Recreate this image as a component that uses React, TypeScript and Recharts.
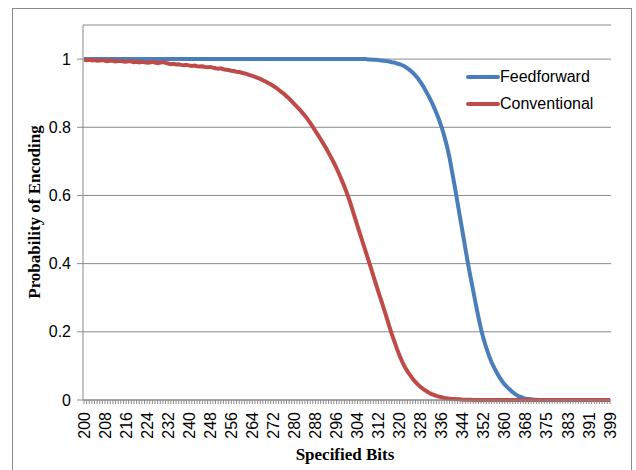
import { LineChart, Line, XAxis, YAxis, CartesianGrid } from 'recharts';

// specified bits (x categories) as labelled in the source; 372 appears twice
const bits = [
    200, 201, 202, 203, 204, 205, 206, 207, 208, 209, 210, 211, 212, 213, 214, 215, 216, 217, 218, 219,
    220, 221, 222, 223, 224, 225, 226, 227, 228, 229, 230, 231, 232, 233, 234, 235, 236, 237, 238, 239,
    240, 241, 242, 243, 244, 245, 246, 247, 248, 249, 250, 251, 252, 253, 254, 255, 256, 257, 258, 259,
    260, 261, 262, 263, 264, 265, 266, 267, 268, 269, 270, 271, 272, 273, 274, 275, 276, 277, 278, 279,
    280, 281, 282, 283, 284, 285, 286, 287, 288, 289, 290, 291, 292, 293, 294, 295, 296, 297, 298, 299,
    300, 301, 302, 303, 304, 305, 306, 307, 308, 309, 310, 311, 312, 313, 314, 315, 316, 317, 318, 319,
    320, 321, 322, 323, 324, 325, 326, 327, 328, 329, 330, 331, 332, 333, 334, 335, 336, 337, 338, 339,
    340, 341, 342, 343, 344, 345, 346, 347, 348, 349, 350, 351, 352, 353, 354, 355, 356, 357, 358, 359,
    360, 361, 362, 363, 364, 365, 366, 367, 368, 369, 370, 371, 372, 372, 373, 374, 375, 376, 377, 378,
    379, 380, 381, 382, 383, 384, 385, 386, 387, 388, 389, 390, 391, 392, 393, 394, 395, 396, 397, 398,
    399,
];

const feedforward = [
    1, 1, 1, 1, 1, 1, 1, 1, 1, 1,
    1, 1, 1, 1, 1, 1, 1, 1, 1, 1,
    1, 1, 1, 1, 1, 1, 1, 1, 1, 1,
    1, 1, 1, 1, 1, 1, 1, 1, 1, 1,
    1, 1, 1, 1, 1, 1, 1, 1, 1, 1,
    1, 1, 1, 1, 1, 1, 1, 1, 1, 1,
    1, 1, 1, 1, 1, 1, 1, 1, 1, 1,
    1, 1, 1, 1, 1, 1, 1, 1, 1, 1,
    1, 1, 1, 1, 1, 1, 1, 1, 1, 1,
    1, 1, 1, 1, 1, 1, 1, 1, 1, 1,
    1, 1, 1, 1, 1, 1, 1, 1, 0.999, 0.999,
    0.998, 0.998, 0.997, 0.996, 0.995, 0.994, 0.993, 0.991, 0.99, 0.987,
    0.985, 0.982, 0.978, 0.973, 0.967, 0.96, 0.952, 0.943, 0.932, 0.92,
    0.906, 0.892, 0.877, 0.86, 0.842, 0.822, 0.8, 0.774, 0.745, 0.71,
    0.668, 0.625, 0.58, 0.535, 0.49, 0.445, 0.4, 0.36, 0.32, 0.28,
    0.242, 0.207, 0.177, 0.152, 0.13, 0.11, 0.094, 0.08, 0.066, 0.055,
    0.045, 0.037, 0.03, 0.023, 0.017, 0.012, 0.009, 0.006, 0.004, 0.003,
    0.002, 0.001, 0.001, 0, 0, 0, 0, 0, 0, 0,
    0, 0, 0, 0, 0, 0, 0, 0, 0, 0,
    0, 0, 0, 0, 0, 0, 0, 0, 0, 0,
    0,
];

const conventional = [
    0.998, 0.997, 0.998, 0.996, 0.997, 0.995, 0.996, 0.997, 0.995, 0.994,
    0.996, 0.995, 0.993, 0.994, 0.995, 0.993, 0.992, 0.994, 0.993, 0.991,
    0.992, 0.99, 0.992, 0.991, 0.989, 0.99, 0.992, 0.99, 0.988, 0.99,
    0.991, 0.989, 0.987, 0.985, 0.986, 0.984, 0.985, 0.983, 0.982, 0.983,
    0.981, 0.98, 0.981, 0.979, 0.978, 0.979, 0.977, 0.976, 0.977, 0.975,
    0.973, 0.972, 0.973, 0.97, 0.969, 0.968, 0.966, 0.965, 0.963, 0.962,
    0.96, 0.958, 0.956, 0.953, 0.951, 0.948, 0.945, 0.942, 0.938, 0.934,
    0.93, 0.926, 0.921, 0.916, 0.91, 0.904, 0.898, 0.891, 0.884, 0.876,
    0.868, 0.86, 0.852, 0.843, 0.834, 0.824, 0.813, 0.801, 0.789, 0.777,
    0.765, 0.752, 0.739, 0.725, 0.711, 0.696, 0.68, 0.663, 0.645, 0.626,
    0.606, 0.584, 0.56, 0.535, 0.51, 0.486, 0.462, 0.438, 0.414, 0.39,
    0.365, 0.34, 0.316, 0.292, 0.268, 0.244, 0.218, 0.194, 0.172, 0.15,
    0.13, 0.112, 0.097, 0.084, 0.073, 0.062, 0.053, 0.045, 0.038, 0.032,
    0.027, 0.022, 0.018, 0.015, 0.012, 0.01, 0.008, 0.006, 0.005, 0.004,
    0.003, 0.003, 0.002, 0.002, 0.001, 0.001, 0.001, 0.001, 0, 0,
    0, 0, 0, 0, 0, 0, 0, 0, 0, 0,
    0, 0, 0, 0, 0, 0, 0, 0, 0, 0,
    0, 0, 0, 0, 0, 0, 0, 0, 0, 0,
    0, 0, 0, 0, 0, 0, 0, 0, 0, 0,
    0, 0, 0, 0, 0, 0, 0, 0, 0, 0,
    0,
];

const yTicks = [0, 0.2, 0.4, 0.6, 0.8, 1];

const seriesNames = ['Feedforward', 'Conventional'];
const seriesColors = ['#4a7ebb', '#be4b48'];

const data = bits.map((b, i) => ({
    bits: b,
    feedforward: feedforward[i],
    conventional: conventional[i],
}));

const axisGray = '#8a8a8a';
const sans = '"Liberation Sans", Arial, sans-serif';
const serif = '"Liberation Serif", "Times New Roman", serif';

// only every 8th category gets a label, but every category keeps its tick mark
function BitTick(props: any) {
    const { x, y, payload, index } = props;
    if (index % 8 !== 0) return null;
    return (
        <text
            x={x}
            y={y}
            dy="0.35em"
            textAnchor="end"
            transform={`rotate(-90, ${x}, ${y})`}
            fontSize={16}
            fontFamily={sans}
            fill="#000"
        >
            {payload.value}
        </text>
    );
}

export default function App() {
    return (
        <div style={{ position: 'absolute', left: 0, top: 0, width: 636, height: 470, background: '#fff', overflow: 'hidden' }}>
            <div style={{ position: 'absolute', left: 12, top: 8, width: 618, height: 480, border: `1px solid ${axisGray}` }} />

            <LineChart
                width={636}
                height={470}
                data={data}
                margin={{ top: 25, right: 25, bottom: 0, left: 43 }}
            >
                <CartesianGrid vertical={false} stroke={axisGray} strokeWidth={1} />
                <XAxis
                    dataKey="bits"
                    type="category"
                    interval={0}
                    height={70}
                    padding={{ left: 1, right: 1 }}
                    tickSize={4}
                    tickMargin={8}
                    tick={<BitTick />}
                    tickLine={{ stroke: axisGray }}
                    axisLine={{ stroke: axisGray }}
                />
                <YAxis
                    domain={[0, 1.1]}
                    ticks={yTicks}
                    width={40}
                    tickSize={6}
                    tickMargin={6}
                    tick={{ fontSize: 16, fontFamily: sans, fill: '#000' }}
                    tickLine={{ stroke: axisGray }}
                    axisLine={{ stroke: axisGray }}
                />
                <Line
                    type="linear"
                    dataKey="feedforward"
                    name={seriesNames[0]}
                    stroke={seriesColors[0]}
                    strokeWidth={4}
                    dot={false}
                    isAnimationActive={false}
                />
                <Line
                    type="linear"
                    dataKey="conventional"
                    name={seriesNames[1]}
                    stroke={seriesColors[1]}
                    strokeWidth={4}
                    dot={false}
                    isAnimationActive={false}
                />
            </LineChart>

            {/* legend */}
            <div style={{ position: 'absolute', left: 466, top: 63, fontFamily: sans, fontSize: 16, color: '#000' }}>
                {seriesNames.map((name, i) => (
                    <div key={name} style={{ display: 'flex', alignItems: 'center', height: 27 }}>
                        <span style={{ display: 'inline-block', width: 34, height: 4, borderRadius: 2, background: seriesColors[i] }} />
                        <span>{name}</span>
                    </div>
                ))}
            </div>

            {/* axis titles */}
            <div
                style={{
                    position: 'absolute', left: 35, top: 212, transform: 'translate(-50%, -50%) rotate(-90deg)',
                    whiteSpace: 'nowrap', fontFamily: serif, fontWeight: 'bold', fontSize: 17, color: '#000',
                }}
            >
                Probability of Encoding
            </div>
            <div
                style={{
                    position: 'absolute', left: 345, top: 455, transform: 'translate(-50%, -50%)',
                    whiteSpace: 'nowrap', fontFamily: serif, fontWeight: 'bold', fontSize: 17, color: '#000',
                }}
            >
                Specified Bits
            </div>
        </div>
    );
}
